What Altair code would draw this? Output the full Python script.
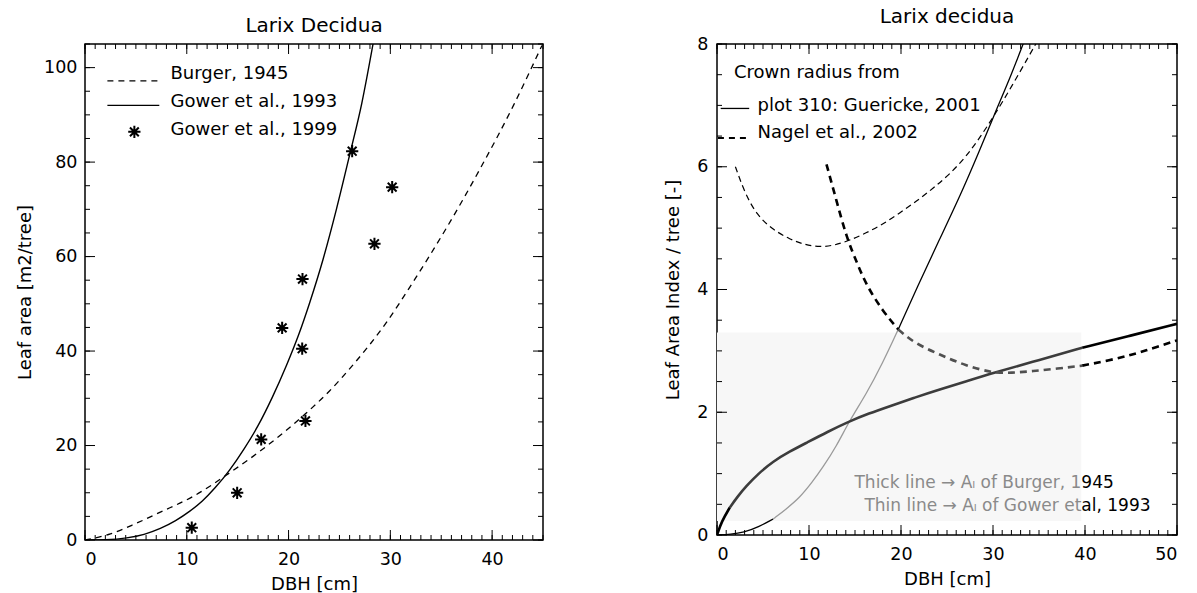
import altair as alt
import pandas as pd

FONT = "DejaVu Sans"

# ---------------- left panel: leaf area per tree ----------------
burger_dbh = [0, 2.5, 5.0, 7.4, 10.6, 14.2, 17.8, 21.6, 24.0, 26.5, 29.6, 32.2, 35.5, 38.8, 42.1, 44.9]
burger_la = [0, 1.3, 3.5, 5.9, 9.2, 14.2, 19.8, 26.6, 31.5, 37.5, 46.0, 54.5, 66.0, 78.5, 92.0, 104.7]

gower93_dbh = [0, 2.0, 4.1, 5.8, 7.4, 8.9, 10.3, 11.5, 12.8, 14.2, 15.6, 17.0, 18.4, 19.8, 21.0, 22.1, 23.4, 24.7, 26.0, 27.2, 28.3]
gower93_la = [0, 0.07, 0.45, 1.2, 2.45, 4.1, 6.1, 8.2, 11.1, 14.8, 19.2, 24.2, 30.2, 37.0, 43.5, 50.4, 59.5, 70.0, 81.5, 92.5, 105.0]

gower99_dbh = [10.49, 14.95, 17.31, 19.37, 21.34, 21.37, 21.66, 26.25, 28.44, 30.18]
gower99_la = [2.6, 10.0, 21.3, 44.9, 40.5, 55.25, 25.2, 82.3, 62.7, 74.7]

# ---------------- right panel: LAI per tree ----------------
thin_sol_dbh = [0, 1.5, 2.9, 4.5, 6.1, 7.5, 9.0, 10.3, 11.5, 13.0, 14.35, 16.2, 18.0, 19.7, 21.8, 24.1, 26.5, 28.5, 30.2, 32.0, 33.4]
thin_sol_lai = [0, 0.01, 0.04, 0.13, 0.26, 0.42, 0.61, 0.85, 1.10, 1.45, 1.85, 2.29, 2.80, 3.35, 4.05, 4.79, 5.55, 6.25, 6.87, 7.50, 8.05]

thin_dash_dbh = [2.0, 3.0, 4.3, 6.0, 7.9, 9.5, 11.2, 12.8, 14.4, 16.2, 18.0, 19.8, 21.7, 23.5, 25.3, 27.1, 28.6, 30.2, 32.0, 34.0, 35.1]
thin_dash_lai = [6.0, 5.58, 5.22, 4.98, 4.82, 4.73, 4.69, 4.72, 4.80, 4.92, 5.06, 5.24, 5.44, 5.65, 5.88, 6.17, 6.48, 6.85, 7.30, 7.83, 8.12]

thick_sol_dbh = [0, 0.5, 1.4, 2.2, 3.2, 4.5, 6.1, 7.9, 9.7, 12.0, 14.35, 16.5, 18.8, 21.5, 24.2, 27.0, 30.0, 35.0, 39.7, 45.0, 50.0]
thick_sol_lai = [0, 0.22, 0.45, 0.62, 0.80, 1.0, 1.2, 1.36, 1.5, 1.68, 1.85, 1.98, 2.10, 2.24, 2.37, 2.50, 2.64, 2.85, 3.05, 3.25, 3.44]

thick_dash_dbh = [11.9, 13.0, 14.1, 15.2, 16.2, 18.0, 19.7, 21.5, 24.2, 27.0, 30.0, 32.0, 34.3, 37.0, 39.7, 42.5, 45.2, 47.5, 50.0]
thick_dash_lai = [6.04, 5.44, 4.84, 4.44, 4.08, 3.65, 3.35, 3.12, 2.94, 2.76, 2.64, 2.64, 2.67, 2.71, 2.76, 2.84, 2.94, 3.05, 3.17]

# ---------------- axes / ticks ----------------
left_x_major = [0, 10, 20, 30, 40]
left_x_minor = list(range(0, 46))
left_y_major = [0, 20, 40, 60, 80, 100]
left_y_minor = list(range(0, 106, 5))
right_x_major = [0, 10, 20, 30, 40, 50]
right_x_minor = list(range(0, 51))
right_y_major = [0, 2, 4, 6, 8]
right_y_minor = [i * 0.5 for i in range(17)]

LW, LH = 458, 496
RW, RH = 460, 491
LABEL_SIZE = 17.5
TITLE_SIZE = 18
TEXT_SIZE = 18

ASTERISK = "M-1,0L1,0M0,-1L0,1M-0.72,-0.72L0.72,0.72M-0.72,0.72L0.72,-0.72"


def make_axes(xvals, yvals, xtitle, ytitle, ylabpad, ytitlepad):
    ax = alt.Axis(values=xvals, ticks=False, tickSize=0, grid=False, domain=False, labelFont=FONT,
                  labelFontSize=LABEL_SIZE, labelPadding=10, labelColor="black", title=xtitle,
                  titleFont=FONT, titleFontSize=TITLE_SIZE, titleFontWeight="normal", titlePadding=8,
                  titleColor="black", format="d")
    ay = alt.Axis(values=yvals, ticks=False, tickSize=0, grid=False, domain=False, labelFont=FONT,
                  labelFontSize=LABEL_SIZE, labelPadding=ylabpad, labelColor="black", title=ytitle,
                  titleFont=FONT, titleFontSize=TITLE_SIZE, titleFontWeight="normal",
                  titlePadding=ytitlepad, titleColor="black", format="d")
    return ax, ay


class Panel:
    def __init__(self, xs, ys, ax, ay, W, H):
        self.xs, self.ys, self.ax, self.ay, self.W, self.H = xs, ys, ax, ay, W, H

    def X(self, f):
        return alt.X(f, scale=self.xs, axis=self.ax)

    def Y(self, f):
        return alt.Y(f, scale=self.ys, axis=self.ay)

    def ticks(self, xmaj, xmin, ymaj, ymin):
        out = []
        for vals, L in [(xmin, 5), (xmaj, 10)]:
            base = alt.Chart(pd.DataFrame({"v": vals})).mark_rule(color="black", strokeWidth=1)
            out.append(base.encode(x=self.X("v:Q"), y=alt.value(self.H), y2=alt.value(self.H - L)))
            out.append(base.encode(x=self.X("v:Q"), y=alt.value(0), y2=alt.value(L)))
        for vals, L in [(ymin, 5), (ymaj, 10)]:
            base = alt.Chart(pd.DataFrame({"v": vals})).mark_rule(color="black", strokeWidth=1)
            out.append(base.encode(y=self.Y("v:Q"), x=alt.value(0), x2=alt.value(L)))
            out.append(base.encode(y=self.Y("v:Q"), x=alt.value(self.W), x2=alt.value(self.W - L)))
        return out

    def line(self, xv, yv, color, width, dash=None, interp="basis"):
        df = pd.DataFrame({"d": xv, "v": yv})
        kw = dict(color=color, strokeWidth=width, interpolate=interp, clip=True)
        if dash:
            kw["strokeDash"] = dash
        return alt.Chart(df).mark_line(**kw).encode(x=self.X("d:Q"), y=self.Y("v:Q"))

    def text(self, x, y, s, color="black", align="left", size=TEXT_SIZE):
        return alt.Chart(pd.DataFrame({"d": [x], "v": [y], "t": [s]})).mark_text(
            align=align, baseline="middle", font=FONT, fontSize=size, color=color).encode(
            x=self.X("d:Q"), y=self.Y("v:Q"), text="t:N")

    def seg(self, x1, x2, y, width, dash=None):
        kw = dict(color="black", strokeWidth=width)
        if dash:
            kw["strokeDash"] = dash
        return alt.Chart(pd.DataFrame({"d": [x1], "d2": [x2], "v": [y]})).mark_rule(**kw).encode(
            x=self.X("d:Q"), x2="d2:Q", y=self.Y("v:Q"))

    def stars(self, xv, yv):
        return alt.Chart(pd.DataFrame({"d": xv, "v": yv})).mark_point(
            shape=ASTERISK, size=150, color="black", strokeWidth=2, filled=False, opacity=1).encode(
            x=self.X("d:Q"), y=self.Y("v:Q"))


def split(xs_vals, ys_vals, cuts, colors):
    parts = []
    for (lo, hi), c in zip(zip(cuts[:-1], cuts[1:]), colors):
        px = [x for x in xs_vals if lo <= x <= hi]
        py = [y for x, y in zip(xs_vals, ys_vals) if lo <= x <= hi]
        parts.append((px, py, c))
    return parts


# ================= left chart =================
lax, lay = make_axes(left_x_major, left_y_major, "DBH [cm]", "Leaf area [m2/tree]", 8, 9)
L = Panel(alt.Scale(domain=[0, 45], nice=False, zero=False),
          alt.Scale(domain=[0, 105], nice=False, zero=False), lax, lay, LW, LH)

left_layers = L.ticks(left_x_major, left_x_minor, left_y_major, left_y_minor)
left_layers.append(L.line(burger_dbh, burger_la, "black", 1.3, [6, 5], "monotone"))
left_layers.append(L.line(gower93_dbh, gower93_la, "black", 1.4, None, "monotone"))
left_layers.append(L.stars(gower99_dbh, gower99_la))
# legend
left_layers.append(L.seg(2.2, 7.3, 97.2, 1.3, [6, 5]))
left_layers.append(L.seg(2.2, 7.3, 92.0, 1.4))
left_layers.append(L.stars([4.85], [86.4]))
left_layers.append(L.text(8.4, 98.7, "Burger, 1945"))
left_layers.append(L.text(8.4, 92.7, "Gower et al., 1993"))
left_layers.append(L.text(8.4, 86.7, "Gower et al., 1999"))

left = alt.layer(*left_layers).properties(
    width=LW, height=LH,
    title=alt.TitleParams("Larix Decidua", font=FONT, fontSize=20, fontWeight="normal", offset=8, color="black"))

# ================= right chart =================
rax, ray = make_axes(right_x_major, right_y_major, "DBH [cm]", "Leaf Area Index / tree [-]", 9, 14)
R = Panel(alt.Scale(domain=[0, 50], nice=False, zero=False),
          alt.Scale(domain=[0, 8], nice=False, zero=False), rax, ray, RW, RH)

BOX_X1, BOX_Y1, BOX_Y2 = 39.6, 0.23, 3.3

right_layers = [
    alt.Chart(pd.DataFrame({"d": [0], "d2": [BOX_X1], "v": [BOX_Y1], "v2": [BOX_Y2]})).mark_rect(
        color="#f7f7f7").encode(x=R.X("d:Q"), x2="d2:Q", y=R.Y("v:Q"), y2="v2:Q")]
right_layers += R.ticks(right_x_major, right_x_minor, right_y_major, right_y_minor)

right_layers.append(R.line(thin_dash_dbh, thin_dash_lai, "black", 1.2, [6, 4]))
for px, py, c in split(thin_sol_dbh, thin_sol_lai, [0, 6.1, 19.7, 40], ["black", "#9a9a9a", "black"]):
    right_layers.append(R.line(px, py, c, 1.3))
for px, py, c in split(thick_sol_dbh, thick_sol_lai, [0, 1.4, 39.7, 50], ["black", "#3c3c3c", "black"]):
    right_layers.append(R.line(px, py, c, 2.6))
for px, py, c in split(thick_dash_dbh, thick_dash_lai, [11, 19.7, 39.7, 50], ["black", "#505050", "black"]):
    right_layers.append(R.line(px, py, c, 2.6, [7, 5]))

# legend
right_layers.append(R.text(1.85, 7.53, "Crown radius from"))
right_layers.append(R.seg(0.4, 3.5, 6.95, 1.3))
right_layers.append(R.text(4.4, 6.99, "plot 310: Guericke, 2001"))
right_layers.append(R.seg(0.1, 3.5, 6.47, 2.0, [6, 5]))
right_layers.append(R.text(4.4, 6.55, "Nagel et al., 2002"))

# annotation inside the grey box
right_layers.append(R.text(BOX_X1, 0.85, "Thick line \u2192 A\u2097 of Burger, 1", color="#8a8a8a", align="right", size=17))
right_layers.append(R.text(BOX_X1, 0.85, "945", size=17))
right_layers.append(R.text(BOX_X1, 0.47, "Thin line \u2192 A\u2097 of Gower et ", color="#8a8a8a", align="right", size=17))
right_layers.append(R.text(BOX_X1, 0.47, "al, 1993", size=17))

right = alt.layer(*right_layers).properties(
    width=RW, height=RH,
    title=alt.TitleParams("Larix decidua", font=FONT, fontSize=20, fontWeight="normal", offset=8, color="black"))

chart = alt.hconcat(left, right, spacing=119).configure_view(
    stroke="black", strokeWidth=1.5).properties(
    background="white", padding={"left": 15, "top": 6, "right": 5, "bottom": 5})

chart.save("out.html", embed_options={"renderer": "svg", "actions": False})
